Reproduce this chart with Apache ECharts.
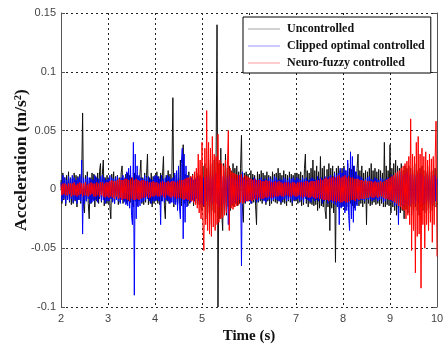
<!DOCTYPE html>
<html><head><meta charset="utf-8">
<script src="https://cdn.jsdelivr.net/npm/echarts@6/dist/echarts.min.js"></script>
<style>html,body{margin:0;padding:0;background:#fff}#c{width:443px;height:347px}</style>
</head><body><div id="c"></div>
<script>
// Sample times: 2 s to 10 s, every 0.02 s (401 samples)
const tStart = 2, tStep = 0.02;
// Accelerations, in mm/s^2 (converted to m/s^2 below)
const uncontrolled = [
 // 2-3 s
 8,-12,14,-9,10,-14,12,-8,15,-11,
 10,-13,9,-12,14,-10,12,-15,11,-9,
 13,-12,10,65,-14,-20,12,-10,15,-12,
 -25,10,-12,14,-9,13,-15,11,-10,14,
 -12,15,22,-11,13,25,-14,10,-12,12,
 // 3-4 s
 -12,10,-14,-25,13,-10,15,-12,11,-9,
 12,-13,10,-11,14,20,-12,9,-10,13,
 -12,14,-10,12,-11,10,-13,-15,14,-10,
 12,-14,11,-10,13,25,-12,10,-13,14,
 -11,12,30,-13,10,-12,14,-15,11,-12,
 // 4-5 s
 12,-10,15,-12,11,-13,14,-10,12,28,
 -14,-25,12,-10,16,-12,13,-11,14,78,
 -15,12,-11,14,-13,10,-12,25,-14,12,
 38,-12,13,-10,12,-14,15,-12,11,-10,
 13,-14,12,-11,15,-12,14,-13,12,-15,
 // 5-6 s
 -18,20,-15,22,-25,18,-20,25,-22,20,
 -30,22,-18,25,-20,28,140,-100,22,-25,
 35,-20,-35,22,-18,30,-22,18,-15,20,
 -18,16,-14,22,-15,18,-12,20,-14,15,
 -12,18,46,-15,-28,14,-12,15,-10,13,
 // 6-7 s
 14,-10,16,-12,13,-11,12,-14,-30,15,
 -11,13,-10,16,-12,14,-9,12,-13,15,
 -10,12,-14,11,-12,15,-10,13,-11,14,
 -12,18,-10,14,-13,12,-11,16,-12,13,
 -14,12,-10,15,-11,13,-14,12,-10,14,
 // 7-8 s
 -10,14,-12,13,-11,15,-14,12,-13,18,
 30,-12,16,-15,14,-12,18,-13,25,-14,
 16,-13,20,-18,15,-16,28,-14,18,-15,
 20,-18,-25,17,-15,22,-35,18,-16,20,
 -20,15,-62,18,-15,20,-17,16,-15,18,
 // 8-9 s
 -14,20,-18,16,-15,22,-15,18,-12,17,
 -14,20,-16,15,-13,18,30,-14,16,-12,
 20,-15,14,-12,16,-30,15,-12,18,-14,
 22,-13,16,-11,18,-13,15,-12,17,-14,
 16,-12,14,-15,40,-15,20,-13,16,-14,
 // 9-10 s
 38,-20,18,-15,22,-18,25,-22,20,-16,
 18,-20,22,-18,16,-25,20,-17,18,-20,
 20,-15,18,-22,16,-18,20,-15,22,-18,
 16,-22,18,-15,20,-18,16,-20,15,-18,
 20,-16,18,-20,15,-18,16,-14,18,-15,
 -12
];
const clippedOptimal = [
 // 2-3 s
 6,-10,12,-8,10,-12,8,-9,11,-10,
 9,-8,12,-11,10,-9,8,-12,10,-9,
 11,-10,25,-38,10,-12,9,-10,11,-8,
 10,-12,9,-11,8,-10,12,-9,10,-11,
 9,-8,11,-10,12,-9,10,-12,8,-10,
 // 3-4 s
 9,-10,12,-8,10,-11,9,-12,10,-9,
 11,-10,8,-12,10,-9,12,-11,10,-13,
 15,-14,18,-16,20,-22,-30,40,-90,30,
 -25,20,-15,12,-14,10,-11,9,-10,12,
 -9,10,-8,11,-10,9,-12,8,-10,11,
 // 4-5 s
 -10,12,-9,11,-10,9,-30,12,-10,9,
 -11,10,-9,12,-10,11,-12,9,-11,10,
 -12,14,-13,16,-18,20,-15,-25,22,35,
 -42,30,-28,20,-15,12,-10,9,-11,10,
 -9,8,-10,9,-8,11,-10,9,-12,10,
 // 5-6 s
 -12,10,-14,12,-10,11,-15,12,-10,14,
 -12,10,-13,12,-11,14,-12,10,-15,12,
 -14,11,-12,15,-20,12,-18,10,-30,12,
 -14,10,-12,9,-11,10,-12,8,-10,12,
 -9,10,-65,15,-10,9,-11,8,-10,9,
 // 6-7 s
 -10,9,-12,8,-9,10,-8,9,-11,8,
 -10,9,-8,10,-9,8,-10,9,-11,8,
 -9,10,-8,9,-10,8,-9,11,-8,10,
 -9,8,-10,9,-11,8,-9,10,-8,9,
 -10,8,-9,10,-8,9,-11,10,-9,8,
 // 7-8 s
 -9,10,-8,9,-10,8,-9,10,-11,9,
 -8,10,-9,8,-10,9,-11,10,-8,9,
 -10,8,-9,11,-10,9,-8,10,-12,9,
 -10,11,-9,10,-12,11,-10,12,-11,10,
 -12,14,-13,12,-15,14,-30,18,-16,14,
 // 8-9 s
 -15,18,-20,16,-18,25,-22,-35,32,-25,
 28,-28,20,-18,15,-14,12,-10,11,-9,
 10,-9,8,-10,9,-8,10,-9,11,-8,
 9,-10,8,-9,10,-8,9,-10,8,-9,
 10,-8,9,-11,8,-10,9,-8,10,-9,
 // 9-10 s
 9,-10,12,-11,10,-14,12,-13,15,-30,
 14,-12,15,-14,12,-14,13,-12,15,-13,
 12,-14,13,-12,14,-11,12,-13,12,-10,
 13,-12,14,-11,12,-13,11,-12,13,-10,
 12,-11,13,-12,10,-13,12,-11,12,-10,
 9
];
const neuroFuzzy = [
 // 2-3 s
 4,-5,5,-4,5,-5,4,-5,5,-4,
 5,-6,5,-5,6,-5,4,-6,5,-5,
 6,-4,5,-6,5,-5,6,-5,4,-6,
 5,-5,6,-4,5,-6,5,-6,6,-5,
 5,-6,6,-5,6,-6,5,-7,6,-6,
 // 3-4 s
 6,-7,7,-6,8,-7,7,-8,7,-6,
 8,-8,9,-7,8,-9,8,-8,9,-8,
 9,-9,8,-10,9,-8,10,-9,8,-9,
 9,-8,8,-9,7,-8,8,-7,8,-7,
 7,-6,7,-7,6,-7,6,-6,7,-6,
 // 4-5 s
 6,-5,6,-6,5,-6,6,-5,7,-6,
 6,-7,6,-5,7,-6,6,-7,7,-6,
 7,-7,6,-8,7,-7,8,-7,8,-8,
 8,-9,9,-8,10,-9,10,-10,11,-10,
 12,-11,15,-13,18,-16,30,-20,25,-25,
 // 5-6 s
 40,-30,-52,35,-30,67,-35,40,-38,35,
 -40,45,-32,30,-35,28,-30,47,-28,25,
 -25,22,-24,20,-22,25,-20,18,50,-35,
 18,-16,15,-17,14,-15,13,-14,12,-13,
 12,-11,13,-12,10,-11,12,-10,11,-10,
 // 6-7 s
 10,-9,9,-10,8,-9,9,-8,8,-9,
 8,-7,8,-8,7,-8,7,-7,8,-7,
 7,-6,7,-7,6,-7,6,-6,7,-6,
 6,-6,7,-5,6,-6,5,-6,6,-5,
 6,-5,6,-6,5,-6,6,-5,6,-6,
 // 7-8 s
 5,-6,6,-5,6,-6,6,-7,6,-6,
 7,-6,7,-7,6,-7,7,-6,7,-7,
 7,-8,8,-7,8,-8,9,-8,8,-9,
 9,-9,10,-9,9,-10,10,-9,10,-10,
 11,-10,10,-11,11,-10,12,-11,10,-11,
 // 8-9 s
 11,-10,12,-11,10,-11,11,-10,10,-9,
 10,-9,9,-10,9,-8,9,-9,8,-8,
 8,-8,7,-8,8,-7,7,-7,7,-6,
 7,-7,6,-7,7,-6,6,-7,6,-6,
 7,-6,6,-7,7,-8,8,-8,9,-9,
 // 9-10 s
 10,-9,11,-10,12,-11,14,-12,15,-14,
 16,-15,18,-17,20,-18,22,-25,24,-22,
 28,-30,60,-52,30,-35,28,-71,40,-40,
 45,-38,30,-84,35,-30,28,-50,32,-30,
 25,-35,30,-28,26,-45,28,-30,25,58,
 -57
];
const seriesNames = ['Uncontrolled','Clipped optimal controlled','Neuro-fuzzy controlled'];
const seriesColors = ['#111111','#0000ff','#ff0000'];
const legendColors = ['#9a9a9a','#8c8cff','#ff9090'];

[uncontrolled, clippedOptimal, neuroFuzzy].forEach((a,i)=>{
  if (a.length !== 401) throw new Error('series '+i+' has '+a.length+' values');
});
function pairs(arr){ return arr.map((v,i)=>[+(tStart+i*tStep).toFixed(2), v/1000]); }

const chart = echarts.init(document.getElementById('c'), null, {renderer:'canvas'});
const frame = {show:true, lineStyle:{color:'#555', width:1}};
const dashed = {show:true, lineStyle:{color:'#222', type:[2,3], width:1}};
chart.setOption({
  animation:false,
  grid:{left:61, right:6, top:13, bottom:40, containLabel:false, outerBoundsMode:'none'},
  legend:{
    left:243, top:17, orient:'vertical', icon:'rect',
    padding:[6,6,4,5], itemGap:5, itemWidth:32, itemHeight:2,
    backgroundColor:'#fff', borderColor:'#000', borderWidth:1, borderRadius:0,
    itemStyle:{opacity:0.45},
    textStyle:{fontFamily:'Liberation Serif', fontWeight:'bold', fontSize:12, lineHeight:12, color:'#111', padding:[0,0,0,2]},
    data: seriesNames.map((n,i)=>({name:n, itemStyle:{color:legendColors[i], opacity:0.45}}))
  },
  xAxis:[{
    type:'value', min:2, max:10, interval:1,
    axisLine:frame, axisTick:{show:true, inside:true, length:4, lineStyle:{color:'#555'}},
    axisLabel:{fontFamily:'Liberation Sans', fontSize:11, color:'#444', margin:6},
    splitLine:dashed,
    name:'Time (s)', nameLocation:'middle', nameGap:20,
    nameTextStyle:{fontFamily:'Liberation Serif', fontWeight:'bold', fontSize:15, color:'#111'}
  },{
    type:'value', min:2, max:10, interval:1, position:'top',
    axisLine:frame, axisTick:{show:true, inside:true, length:4, lineStyle:{color:'#555'}},
    axisLabel:{show:false}, splitLine:{show:false}
  }],
  yAxis:[{
    type:'value', min:-0.1, max:0.15, interval:0.05,
    axisLine:frame, axisTick:{show:true, inside:true, length:4, lineStyle:{color:'#555'}},
    axisLabel:{fontFamily:'Liberation Sans', fontSize:11, color:'#444', margin:5,
      formatter:v=>String(parseFloat(v.toFixed(2)))},
    splitLine:dashed,
    name:'Acceleration (m/s²)', nameLocation:'middle', nameGap:31, nameMoveOverlap:false,
    nameTextStyle:{fontFamily:'Liberation Serif', fontWeight:'bold', fontSize:17.5, color:'#111'}
  },{
    type:'value', min:-0.1, max:0.15, interval:0.05, position:'right',
    axisLine:frame, axisTick:{show:true, inside:true, length:4, lineStyle:{color:'#555'}},
    axisLabel:{show:false}, splitLine:{show:false}
  }],
  series:[uncontrolled, clippedOptimal, neuroFuzzy].map((arr,i)=>({
    name:seriesNames[i], type:'line', data:pairs(arr), symbol:'none', showSymbol:false,
    sampling:null, clip:true, color:seriesColors[i],
    lineStyle:{color:seriesColors[i], width:1}, z:2+i
  }))
});
</script></body></html>
